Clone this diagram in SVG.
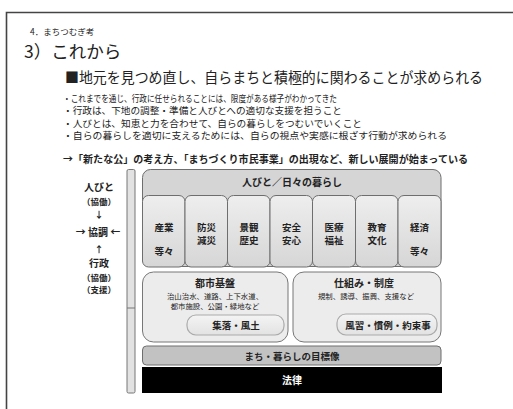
<svg xmlns="http://www.w3.org/2000/svg" width="513" height="409" viewBox="0 0 513 409">
<defs>
<linearGradient id="gbox" x1="0" y1="0" x2="0" y2="1">
<stop offset="0" stop-color="#eeeeee"/>
<stop offset="1" stop-color="#d6d6d6"/>
</linearGradient>
<linearGradient id="gpill" x1="0" y1="0" x2="0" y2="1">
<stop offset="0" stop-color="#f4f4f4"/>
<stop offset="1" stop-color="#e2e2e2"/>
</linearGradient>
<style>
text{font-family:"Noto Sans CJK JP","Noto Sans CJK SC",sans-serif;fill:#222}
.b{font-weight:bold}
.c{text-anchor:middle}
.sub{fill:url(#gbox);stroke:#6e6e6e;stroke-width:1}
.low{fill:#ececec;stroke:#777;stroke-width:1}
.pill{fill:url(#gpill);stroke:#aaa;stroke-width:1.2}
.t10{font-size:10px}
.t8{font-size:7.4px}
</style>
</defs>
<rect width="513" height="409" fill="#fff"/>
<path d="M6.5 409 V12.5 H513" fill="none" stroke="#444" stroke-width="1.6"/>

<g id="header">
<text x="30" y="34.5" font-size="8.5">4．まちつむぎ考</text>
<text x="24" y="58" font-size="17.5">3）これから</text>
<text x="65" y="83" font-size="14.5" textLength="418" lengthAdjust="spacingAndGlyphs">■地元を見つめ直し、自らまちと積極的に関わることが求められる</text>
<text x="63" y="101.5" font-size="9.5" textLength="274" lengthAdjust="spacingAndGlyphs">・これまでを通じ、行政に任せられることには、限度がある様子がわかってきた</text>
<text x="63" y="114" font-size="9.5" textLength="279" lengthAdjust="spacingAndGlyphs">・行政は、下地の調整・準備と人びとへの適切な支援を担うこと</text>
<text x="63" y="126.5" font-size="9.5" textLength="299" lengthAdjust="spacingAndGlyphs">・人びとは、知恵と力を合わせて、自らの暮らしをつむいでいくこと</text>
<text x="63" y="139" font-size="9.5" textLength="384" lengthAdjust="spacingAndGlyphs">・自らの暮らしを適切に支えるためには、自らの視点や実感に根ざす行動が求められる</text>
<text x="63" y="162.5" font-size="9.8" class="b" textLength="405" lengthAdjust="spacingAndGlyphs">→「新たな公」の考え方、「まちづくり市民事業」の出現など、新しい展開が始まっている</text>
</g>

<g id="side-labels" class="b">
<text x="99" y="191" class="c" font-size="10">人びと</text>
<text x="99" y="204.5" class="c" font-size="8.5">（協働）</text>
<text x="99" y="217.5" class="c" font-size="9">↓</text>
<text x="98" y="235.5" class="c" font-size="10">→ 協調 ←</text>
<text x="99" y="252.5" class="c" font-size="9">↑</text>
<text x="99" y="267" class="c" font-size="10">行政</text>
<text x="99" y="280.5" class="c" font-size="8.5">（協働）</text>
<text x="99" y="293" class="c" font-size="8.5">（支援）</text>
</g>

<g id="side-bar">
<rect x="127" y="169.5" width="8" height="223.5" rx="1.5" fill="#e2e2e2" stroke="#777" stroke-width="1"/>
<line x1="127" y1="308" x2="135" y2="308" stroke="#777" stroke-width="1"/>
</g>

<g id="connectors"/>

<g id="people-daily-life">
<rect x="142.5" y="169.5" width="298.5" height="97" rx="8" fill="#d5d5d5" stroke="#6e6e6e" stroke-width="1"/>
<text x="292" y="186" class="c b t10">人びと／日々の暮らし</text>
</g>

<g id="industry">
<rect x="142.5" y="195.5" width="42.5" height="71.5" rx="6" class="sub"/>
<text x="164" y="230.5" class="c b" font-size="9.5">産業</text>
<text x="164" y="254.5" class="c b" font-size="9.5">等々</text>
</g>
<g id="disaster">
<rect x="185" y="195.5" width="42.5" height="71.5" rx="6" class="sub"/>
<text x="206.5" y="230.5" class="c b" font-size="9.5">防災</text>
<text x="206.5" y="243.5" class="c b" font-size="9.5">減災</text>
</g>
<g id="landscape">
<rect x="227.5" y="195.5" width="42.5" height="71.5" rx="6" class="sub"/>
<text x="249" y="230.5" class="c b" font-size="9.5">景観</text>
<text x="249" y="243.5" class="c b" font-size="9.5">歴史</text>
</g>
<g id="safety">
<rect x="270" y="195.5" width="42.5" height="71.5" rx="6" class="sub"/>
<text x="291.5" y="230.5" class="c b" font-size="9.5">安全</text>
<text x="291.5" y="243.5" class="c b" font-size="9.5">安心</text>
</g>
<g id="medical">
<rect x="312.5" y="195.5" width="43" height="71.5" rx="6" class="sub"/>
<text x="334" y="230.5" class="c b" font-size="9.5">医療</text>
<text x="334" y="243.5" class="c b" font-size="9.5">福祉</text>
</g>
<g id="education">
<rect x="355.5" y="195.5" width="42.5" height="71.5" rx="6" class="sub"/>
<text x="377" y="230.5" class="c b" font-size="9.5">教育</text>
<text x="377" y="243.5" class="c b" font-size="9.5">文化</text>
</g>
<g id="economy">
<rect x="398" y="195.5" width="43" height="71.5" rx="6" class="sub"/>
<text x="419.5" y="230.5" class="c b" font-size="9.5">経済</text>
<text x="419.5" y="254.5" class="c b" font-size="9.5">等々</text>
</g>

<g id="urban-infrastructure">
<rect x="142.5" y="272" width="145.5" height="70" rx="11" class="low"/>
<text x="215" y="286.5" class="c b" font-size="10">都市基盤</text>
<text x="215" y="299" class="c t8">治山治水、道路、上下水道、</text>
<text x="215" y="308.5" class="c t8">都市施設、公園・緑地など</text>
</g>
<g id="village-climate">
<rect x="187" y="315" width="97" height="20" rx="9" class="pill"/>
<text x="236" y="328.5" class="c b" font-size="9.5">集落・風土</text>
</g>

<g id="systems">
<rect x="293" y="272" width="148" height="70" rx="11" class="low"/>
<text x="364" y="286.5" class="c b" font-size="10">仕組み・制度</text>
<text x="366" y="299" class="c t8">規制、誘導、振興、支援など</text>
</g>
<g id="customs">
<rect x="337" y="314" width="100" height="21" rx="9" class="pill"/>
<text x="388" y="328.5" class="c b" font-size="9.5">風習・慣例・約束事</text>
</g>

<g id="target-image">
<rect x="142.5" y="346" width="298.5" height="19" rx="4" fill="#c2c2c2" stroke="#6e6e6e" stroke-width="1"/>
<text x="292" y="359.5" class="c b" font-size="9.5">まち・暮らしの目標像</text>
</g>

<g id="law">
<rect x="142" y="367" width="300" height="26" fill="#000"/>
<text x="292" y="384" class="c b" font-size="10" style="fill:#fff">法律</text>
</g>
</svg>
